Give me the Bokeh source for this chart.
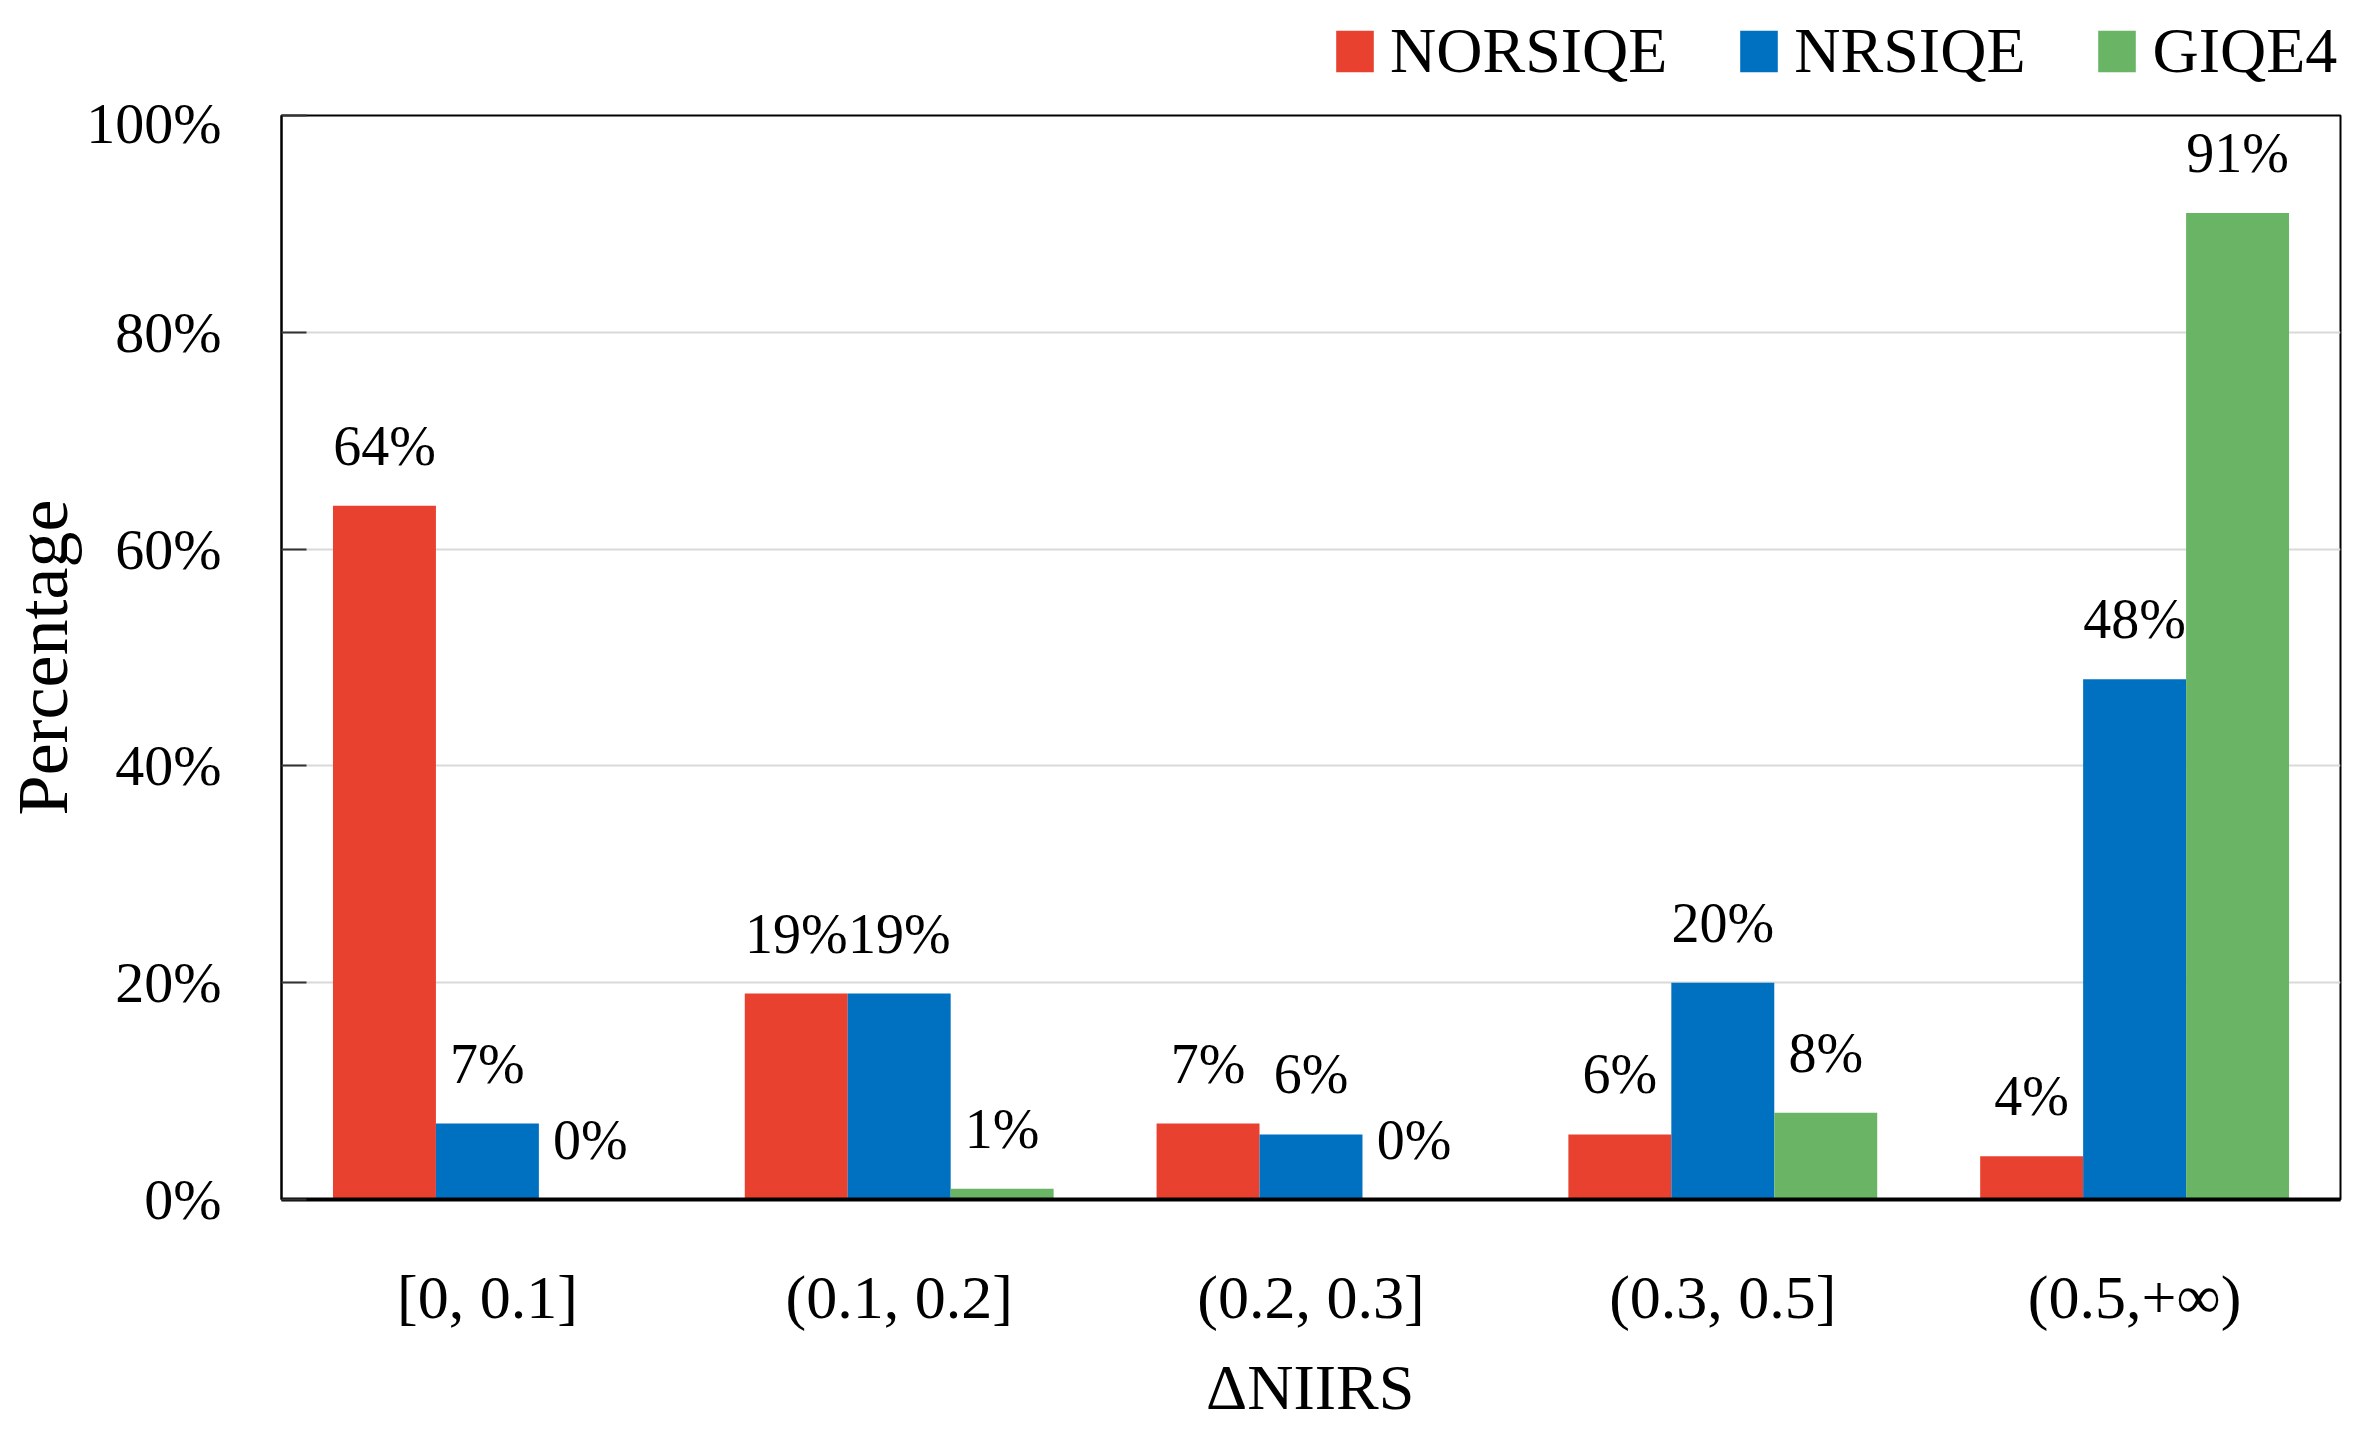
from bokeh.plotting import figure
from bokeh.layouts import column
from bokeh.models import ColumnDataSource, FactorRange, Legend, LegendItem, FixedTicker, PrintfTickFormatter
from bokeh.transform import dodge
from bokeh.core.properties import value
from bokeh.embed import file_html
from bokeh.resources import INLINE

categories = ["[0, 0.1]", "(0.1, 0.2]", "(0.2, 0.3]", "(0.3, 0.5]", "(0.5,+\u221e)"]
norsiqe = [64, 19, 7, 6, 4]
nrsiqe = [7, 19, 6, 20, 48]
giqe4 = [0, 1, 0, 8, 91]
series_names = ["NORSIQE", "NRSIQE", "GIQE4"]
y_ticks = [0, 20, 40, 60, 80, 100]
x_title = "\u0394NIIRS"
y_title = "Percentage"

colors = ["#E8412F", "#0070C0", "#6AB565"]
FONT = "Liberation Serif"

src = ColumnDataSource(dict(
    cat=categories,
    NORSIQE=norsiqe, NRSIQE=nrsiqe, GIQE4=giqe4,
    NORSIQE_t=[f"{v}%" for v in norsiqe],
    NRSIQE_t=[f"{v}%" for v in nrsiqe],
    GIQE4_t=[f"{v}%" for v in giqe4],
))

W = 2346
TOTAL_H = 1424
LEG_H = 90
FRAME_TOP = 115
FRAME_BOTTOM = 1199
MAIN_BOTTOM_BORDER = 136
MAIN_H = FRAME_BOTTOM + MAIN_BOTTOM_BORDER - LEG_H
BOT_H = TOTAL_H - LEG_H - MAIN_H
BORDER_L = 281
BORDER_R = 6

xr = FactorRange(*categories, range_padding=0)


def strip(height):
    f = figure(width=W, height=height, x_range=xr, y_range=(0, 1), output_backend="svg",
               toolbar_location=None, x_axis_location=None, y_axis_location=None,
               min_border_left=BORDER_L, min_border_right=BORDER_R,
               min_border_top=0, min_border_bottom=0)
    f.outline_line_color = None
    f.grid.grid_line_color = None
    f.background_fill_color = "white"
    f.border_fill_color = "white"
    return f


# ---- legend strip (top) ----
lf = strip(LEG_H)
dummies = []
for col in colors:
    # zero-height bars: only give the legend its swatches
    dummies.append(lf.vbar(x="cat", top=0, bottom=0, width=0.1, source=src,
                           fill_color=col, line_color=None))
legend = Legend(items=[LegendItem(label=n, renderers=[r]) for n, r in zip(series_names, dummies)],
                orientation="horizontal", location=(1331 - BORDER_L, 2),
                glyph_width=47, glyph_height=52, label_standoff=12, spacing=68,
                padding=0, margin=0, border_line_color=None, background_fill_alpha=0,
                label_text_font=FONT, label_text_font_size="64px", label_text_color="black")
lf.add_layout(legend)

# ---- x title strip (bottom) ----
bf = strip(BOT_H)
ghost = bf.vbar(x="cat", top=0, bottom=0, width=0.1, source=src, fill_alpha=0, line_color=None)
xt = Legend(items=[LegendItem(label=x_title, renderers=[ghost])],
            orientation="horizontal", location=(1205 - BORDER_L, -1),
            glyph_width=1, glyph_height=1, label_standoff=0, spacing=0,
            padding=0, margin=0, border_line_color=None, background_fill_alpha=0,
            label_text_font=FONT, label_text_font_size="64px", label_text_color="black")
bf.add_layout(xt)

# ---- main chart ----
p = figure(width=W, height=MAIN_H, x_range=xr,
           y_range=(0, 100), output_backend="svg", toolbar_location=None,
           min_border_left=BORDER_L, min_border_right=BORDER_R, min_border_top=FRAME_TOP - LEG_H,
           min_border_bottom=MAIN_BOTTOM_BORDER)
p.background_fill_color = "white"
p.border_fill_color = "white"
p.outline_line_color = "black"
p.outline_line_width = 2

offsets = [-0.25, 0.0, 0.25]
for name, col, off in zip(series_names, colors, offsets):
    p.vbar(x=dodge("cat", off, range=p.x_range), top=name, width=0.25, source=src,
           fill_color=col, line_color=None)
    p.text(x=dodge("cat", off, range=p.x_range), y=name, text=name + "_t", source=src,
           text_align="center", text_baseline="alphabetic", y_offset=-60,
           text_font=value(FONT), text_font_size="56px", text_color="black")

p.yaxis.ticker = FixedTicker(ticks=y_ticks)
p.yaxis.formatter = PrintfTickFormatter(format="%d%%")
p.yaxis.major_label_text_font = FONT
p.yaxis.major_label_text_font_size = "58px"
p.yaxis.major_label_text_color = "black"
p.yaxis.major_label_standoff = 60
p.yaxis.major_tick_in = 25
p.yaxis.major_tick_out = 0
p.yaxis.major_tick_line_color = "#333333"
p.yaxis.major_tick_line_width = 2
p.yaxis.minor_tick_line_color = None
p.yaxis.axis_line_color = "black"
p.yaxis.axis_line_width = 2
p.yaxis.axis_label = y_title
p.yaxis.axis_label_text_font = FONT
p.yaxis.axis_label_text_font_size = "72px"
p.yaxis.axis_label_text_line_height = 0.9
p.yaxis.axis_label_text_font_style = "normal"
p.yaxis.axis_label_text_color = "black"
p.yaxis.axis_label_standoff = 0

p.xaxis.major_label_text_font = FONT
p.xaxis.major_label_text_font_size = "62px"
p.xaxis.major_label_text_color = "black"
p.xaxis.major_label_standoff = 57
p.xaxis.major_tick_line_color = None
p.xaxis.minor_tick_line_color = None
p.xaxis.axis_line_color = "black"
p.xaxis.axis_line_width = 4

p.xgrid.grid_line_color = None
p.ygrid.ticker = FixedTicker(ticks=y_ticks)
p.ygrid.grid_line_color = "#D9D9D9"
p.ygrid.grid_line_width = 2

layout = column(lf, p, bf, spacing=0)
open("out.html", "w").write(file_html(layout, INLINE))
